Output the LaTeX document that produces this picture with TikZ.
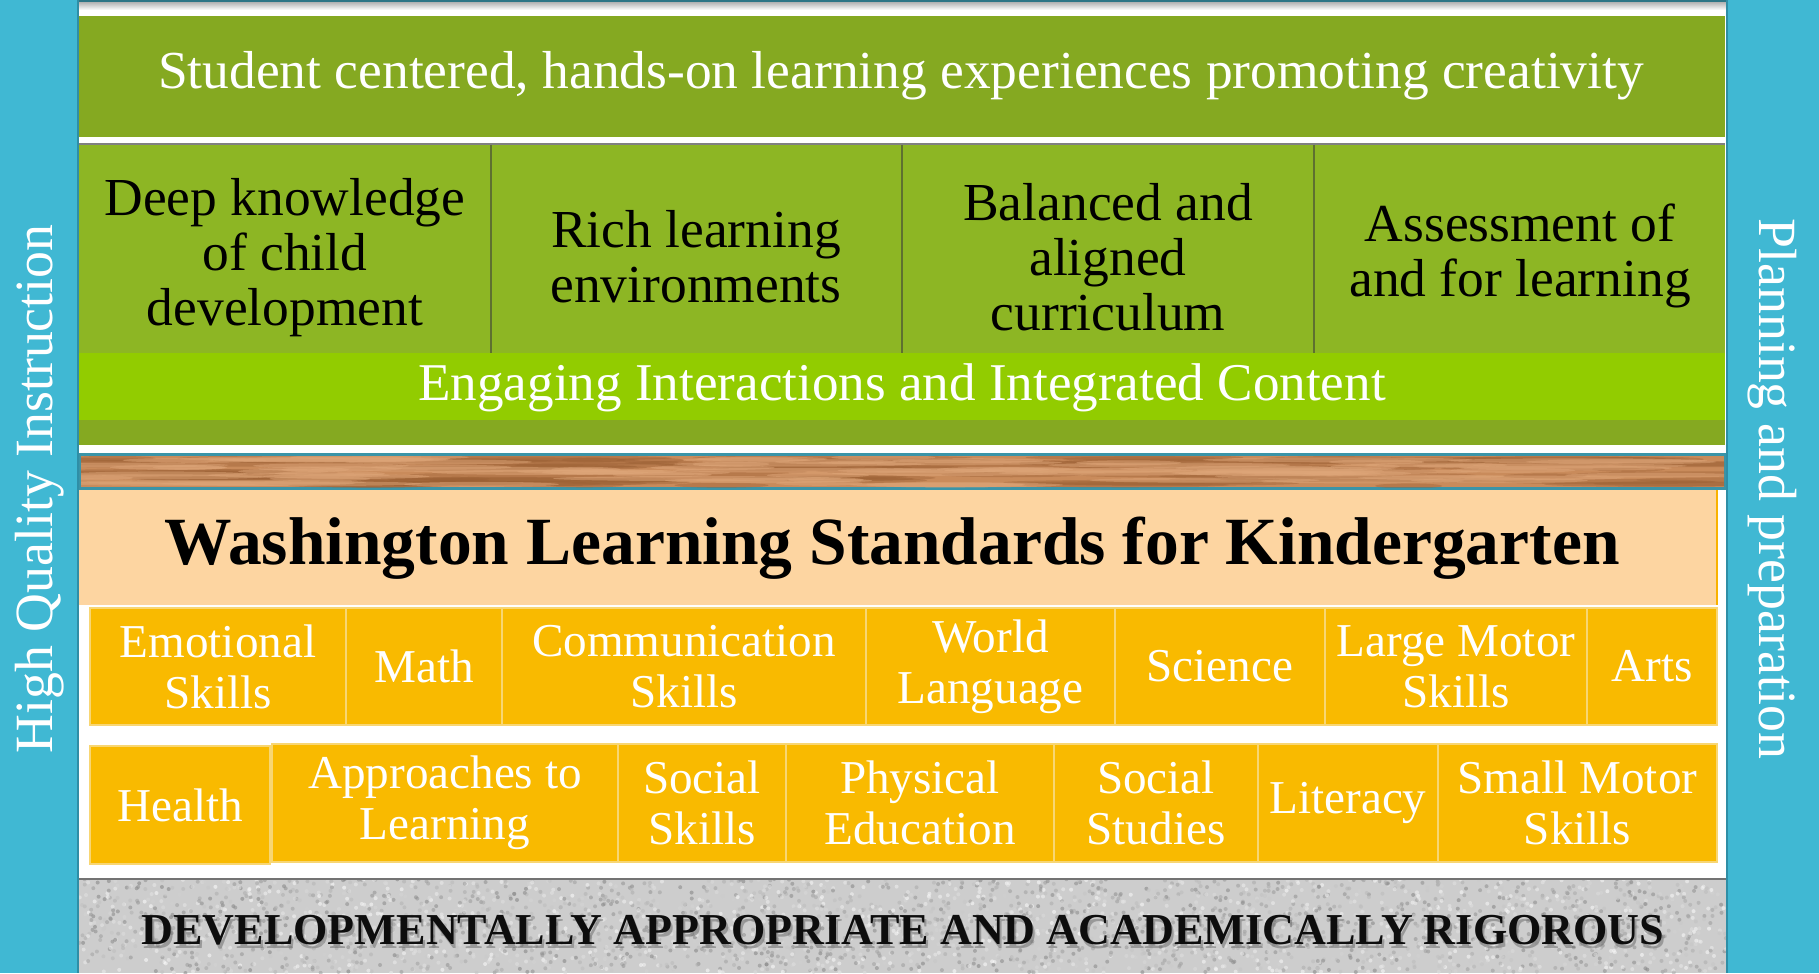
\documentclass[tikz,border=0pt]{standalone}
\usepackage{fontspec}
\setmainfont{Liberation Serif}
\definecolor{SideBlue}{HTML}{40B8D3}
\definecolor{SideEdge}{HTML}{2F8EA6}
\definecolor{TopGreen}{HTML}{85A921}
\definecolor{ColGreen}{HTML}{8DB624}
\definecolor{BrightGreen}{HTML}{92CC00}
\definecolor{DivLine}{HTML}{5E7030}
\definecolor{Peach}{HTML}{FDD5A1}
\definecolor{PeachEdge}{HTML}{F9B200}
\definecolor{OrangeBox}{HTML}{F9BA00}
\definecolor{OrangeEdge}{HTML}{F8D673}
\definecolor{WoodBase}{HTML}{C98B5B}
\definecolor{WoodDark}{HTML}{9A5F34}
\definecolor{WoodLight}{HTML}{DEA679}
\definecolor{Granite}{HTML}{CDCDCD}
\definecolor{TealLine}{HTML}{3A94A8}
\tikzset{
  sidetext/.style={text=white, font=\fontsize{15.3}{17}\selectfont, inner sep=0pt},
  toptext/.style={text=white, font=\fontsize{15.2}{17}\selectfont, inner sep=0pt},
  coltext/.style={text=black, font=\fontsize{15.2}{15.6}\selectfont, align=center, inner sep=0pt},
  engtext/.style={text=white, font=\fontsize{15.1}{17}\selectfont, inner sep=0pt},
  wastext/.style={text=black, font=\fontsize{19.2}{22}\selectfont\bfseries, inner sep=0pt},
  devtext/.style={font=\fontsize{12.55}{15}\selectfont\bfseries, inner sep=0pt},
  obox/.style={fill=OrangeBox, draw=OrangeEdge, line width=0.6pt, text=white,
    font=\fontsize{13.4}{14.5}\selectfont, align=center, inner sep=0pt, outer sep=0pt},
}
\newcommand\obx[6]{%
  \node[obox, minimum width={(#3-#2)*0.01cm}, minimum height={(#5-#4)*0.01cm}]
    (#1) at ({(#2+#3)/2},{(#4+#5)/2}) {#6};}
\begin{document}
\begin{tikzpicture}[x=0.01cm,y=-0.01cm]
\useasboundingbox (0,0) rectangle (1819,973);
\fill[white] (0,0) rectangle (1819,973);
% top edge shading
\shade[top color=gray!60, bottom color=white] (79,2) rectangle (1726,10);
\fill[TealLine!80!black] (79,0) rectangle (1726,2);
% top band
\fill[TopGreen] (79,16) rectangle (1725,137);
\node[toptext] (top) at (901,76) {Student centered, hands-on learning experiences promoting creativity};
% column area
\draw[gray, line width=0.6pt] (79,144) -- (1725,144);
\fill[ColGreen] (79,145) rectangle (1725,353);
\foreach \xx in {491,902,1314}{\draw[DivLine, line width=0.5pt] (\xx,145) -- (\xx,353);}
\node[coltext] (c1) at (285,258) {Deep knowledge\\of child\\development};
\node[coltext] (c2) at (696,257) {Rich learning\\environments};
\node[coltext] (c3) at (1108,257) {Balanced and\\aligned\\curriculum};
\node[coltext] (c4) at (1520,256) {Assessment of\\and for learning};
% engaging band
\fill[BrightGreen] (79,353) rectangle (1725,420);
\node[engtext] (eng) at (902,388) {Engaging Interactions and Integrated Content};
\fill[TopGreen] (79,420) rectangle (1725,445);
% wood strip
\fill[TealLine] (79,453) rectangle (1726,490);
\fill[WoodBase] (81,456) rectangle (1724,487);
\begin{scope}
\clip (81,456) rectangle (1724,487);
\pgfmathsetseed{7}
\foreach \i in {1,...,110}{
  \pgfmathsetmacro\xa{81+rnd*1643}
  \pgfmathsetmacro\ya{457+rnd*29}
  \pgfmathsetmacro\la{30+rnd*120}
  \fill[WoodDark, opacity=0.4] (\xa,\ya) ellipse [x radius=\la, y radius=2.6];
}
\foreach \i in {1,...,80}{
  \pgfmathsetmacro\xa{81+rnd*1643}
  \pgfmathsetmacro\ya{457+rnd*29}
  \pgfmathsetmacro\la{30+rnd*120}
  \fill[WoodLight, opacity=0.5] (\xa,\ya) ellipse [x radius=\la, y radius=2.5];
}
\end{scope}
% peach
\fill[Peach] (79,490) rectangle (1717,605);
\draw[PeachEdge, line width=0.5pt] (1717,490) -- (1717,605);
\node[wastext] (was) at (892,548) {Washington Learning Standards for Kindergarten};
% orange row 1
\obx{r1a}{90}{346}{608}{725}{Emotional\\Skills}
\obx{r1b}{346}{502}{608}{725}{Math}
\obx{r1c}{502}{866}{608}{725}{Communication\\Skills}
\obx{r1d}{866}{1115}{608}{725}{World\\Language}
\obx{r1e}{1115}{1325}{608}{725}{Science}
\obx{r1f}{1325}{1587}{608}{725}{Large Motor\\Skills}
\obx{r1g}{1587}{1717}{608}{725}{Arts}
% orange row 2
\obx{r2a}{90}{270}{746}{864}{Health}
\obx{r2b}{272}{618}{744}{862}{Approaches to\\Learning}
\obx{r2c}{618}{786}{744}{862}{Social\\Skills}
\obx{r2d}{786}{1054}{744}{862}{Physical\\Education}
\obx{r2e}{1054}{1258}{744}{862}{Social\\Studies}
\obx{r2f}{1258}{1438}{744}{862}{Literacy}
\obx{r2g}{1438}{1717}{744}{862}{Small Motor\\Skills}
% granite
\fill[Granite] (79,879) rectangle (1726,973);
\begin{scope}
\clip (79,879) rectangle (1726,973);
\pgfmathsetseed{3}
\foreach \i in {1,...,3200}{
  \pgfmathsetmacro\xa{79+rnd*1647}
  \pgfmathsetmacro\ya{879+rnd*94}
  \pgfmathsetmacro\ga{rnd*100}
  \fill[white!\ga!gray, opacity=0.55] (\xa,\ya) circle [radius=2];
}
\end{scope}
\draw[gray!90!black, line width=0.8pt] (79,879) -- (1726,879);
\node[devtext, text=black!60, opacity=0.5] (devs) at (905,934) {DEVELOPMENTALLY APPROPRIATE AND ACADEMICALLY RIGOROUS};
\node[devtext, text=black!95] (dev) at (903,930) {DEVELOPMENTALLY APPROPRIATE AND ACADEMICALLY RIGOROUS};
% side bars
\fill[SideBlue] (0,0) rectangle (79,973);
\draw[SideEdge, line width=0.6pt] (78,0) -- (78,973);
\fill[SideBlue] (1726,0) rectangle (1819,973);
\draw[SideEdge, line width=0.6pt] (1727,0) -- (1727,973);
\node[sidetext, rotate=90] (lside) at (40,489) {High Quality Instruction};
\node[sidetext, rotate=-90] (rside) at (1772,489) {Planning and preparation};
\end{tikzpicture}
\end{document}
